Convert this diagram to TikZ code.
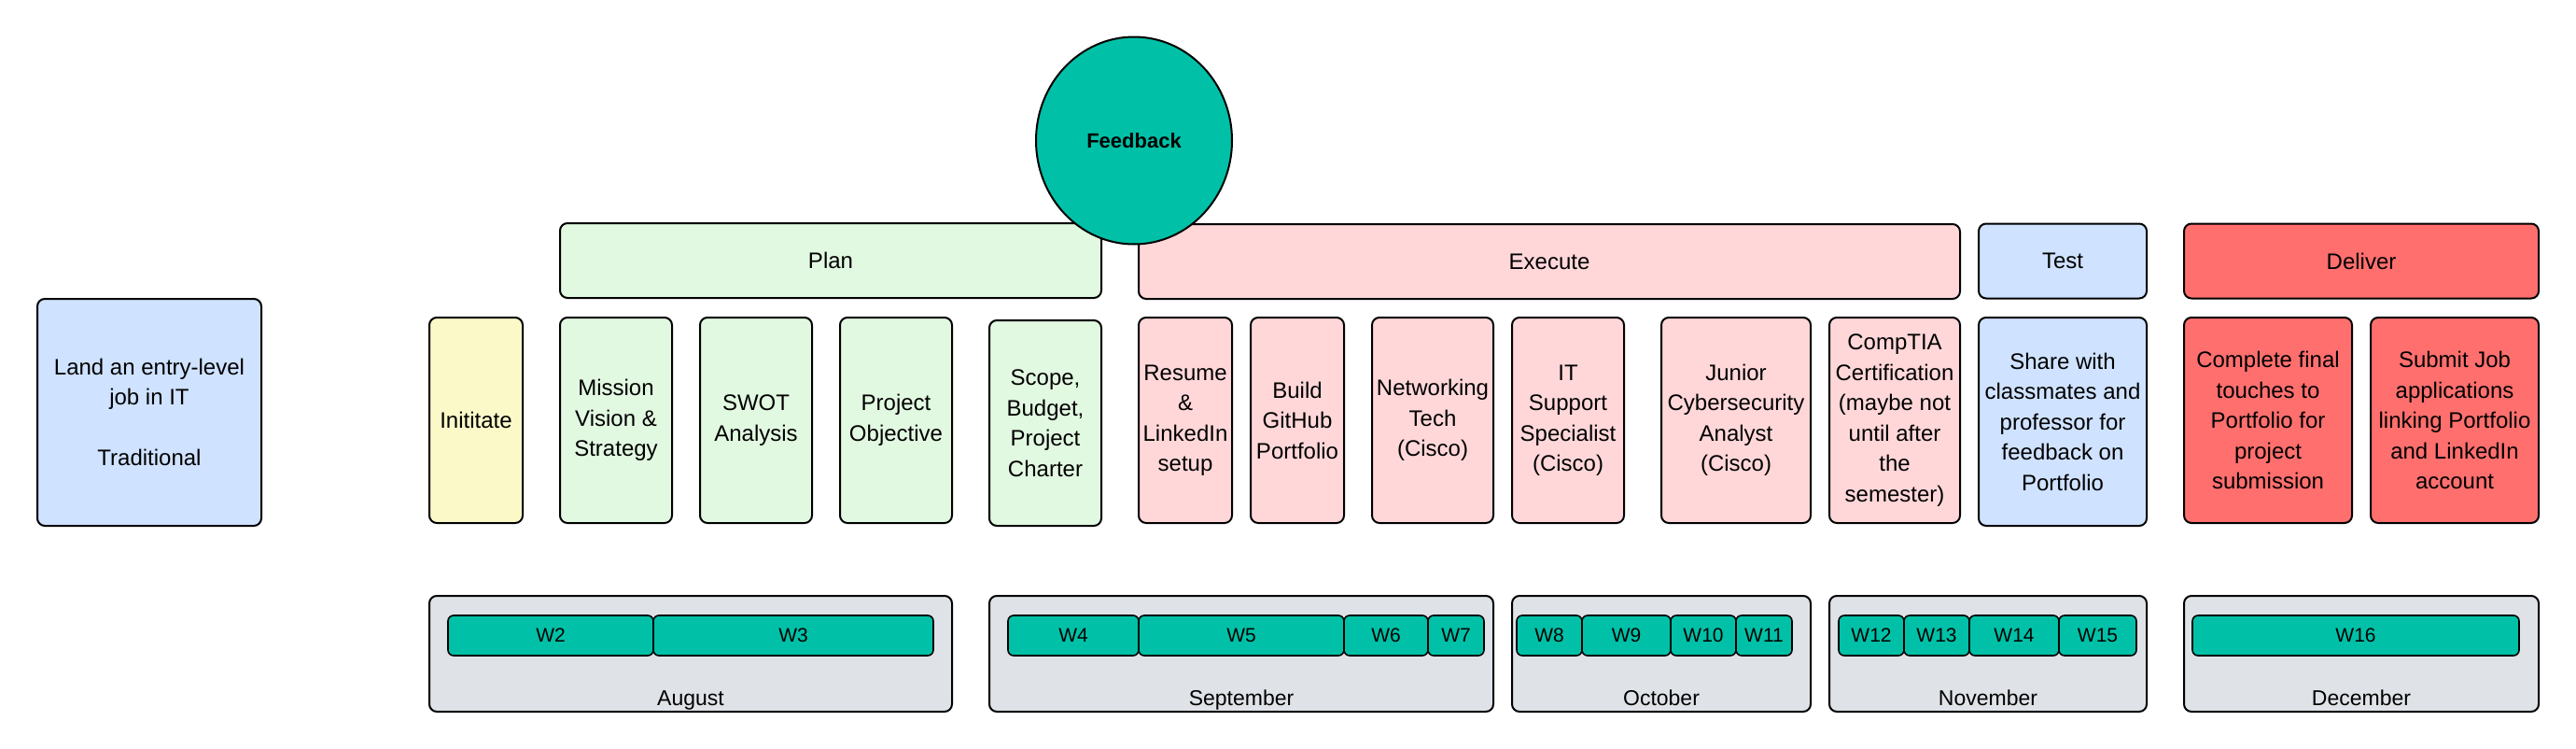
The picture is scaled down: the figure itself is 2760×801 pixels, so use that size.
\documentclass[tikz,border=0pt]{standalone}
\usepackage{fontspec}
\setmainfont{Liberation Sans}
\usepackage{tikz}
\usetikzlibrary{positioning}
\usetikzlibrary{shapes.geometric}
\definecolor{goalblue}{HTML}{CFE2FF}
\definecolor{inityellow}{HTML}{FCF9C9}
\definecolor{plangreen}{HTML}{E2F9E1}
\definecolor{execpink}{HTML}{FFD7D9}
\definecolor{delivred}{HTML}{FF6F6E}
\definecolor{feedteal}{HTML}{00C1A7}
\definecolor{monthgrey}{HTML}{DFE2E7}
\tikzstyle{box} = [draw, line width=2pt, rounded corners=8pt, align=center, inner sep=0pt, font=\fontsize{24}{32.5}\selectfont]
\tikzstyle{task} = [box, minimum height=220pt]
\tikzstyle{phase} = [box, minimum height=80pt]
\tikzstyle{month} = [box, fill=monthgrey, minimum height=124pt]
\tikzstyle{week} = [box, fill=feedteal, line width=1.6pt, rounded corners=6pt, minimum height=43pt, outer sep=0pt, font=\fontsize{21}{25}\selectfont]
\tikzstyle{lbl} = [inner sep=0pt, anchor=base, font=\fontsize{23}{27}\selectfont]

\begin{document}
\begin{tikzpicture}[x=1pt, y=-1pt]
	\useasboundingbox (0, 0) rectangle (2760, 801) ;
	
	\node[box, fill=goalblue, minimum width=240pt, minimum height=243pt] (goal) at (160, 441.5) {Land an entry-level\\job in IT\\[32.5pt]Traditional} ;
	
	\node[phase, fill=plangreen, minimum width=580pt] (plan) at (890, 279) {Plan} ;
	\node[phase, fill=execpink, minimum width=880pt] (exec) at (1660, 280) {Execute} ;
	\node[phase, fill=goalblue, minimum width=180pt] (test) at (2210, 279.5) {Test} ;
	\node[phase, fill=delivred, minimum width=380pt] (deliver) at (2530, 279.5) {Deliver} ;
	
	\node[task, fill=inityellow, minimum width=100pt] (init) at (510, 450) {Inititate} ;
	\node[task, fill=plangreen, minimum width=120pt] (mission) at (660, 450) {Mission\\Vision \&\\Strategy} ;
	\node[task, fill=plangreen, minimum width=120pt] (swot) at (810, 450) {SWOT\\Analysis} ;
	\node[task, fill=plangreen, minimum width=120pt] (objective) at (960, 450) {Project\\Objective} ;
	\node[task, fill=plangreen, minimum width=120pt] (scope) at (1120, 453) {Scope,\\Budget,\\Project\\Charter} ;
	\node[task, fill=execpink, minimum width=100pt] (resume) at (1270, 450) {Resume\\\&\\LinkedIn\\setup} ;
	\node[task, fill=execpink, minimum width=100pt] (github) at (1390, 450) {Build\\GitHub\\Portfolio} ;
	\node[task, fill=execpink, minimum width=130pt] (network) at (1535, 450) {Networking\\Tech\\(Cisco)} ;
	\node[task, fill=execpink, minimum width=120pt] (support) at (1680, 450) {IT\\Support\\Specialist\\(Cisco)} ;
	\node[task, fill=execpink, minimum width=160pt] (cyber) at (1860, 450) {Junior\\Cybersecurity\\Analyst\\(Cisco)} ;
	\node[task, fill=execpink, minimum width=140pt] (comptia) at (2030, 450) {CompTIA\\Certification\\(maybe not\\until after\\the\\semester)} ;
	\node[task, fill=goalblue, minimum width=180pt, minimum height=223pt] (share) at (2210, 451.5) {Share with\\classmates and\\professor for\\feedback on\\Portfolio} ;
	\node[task, fill=delivred, minimum width=180pt] (final) at (2430, 450) {Complete final\\touches to\\Portfolio for\\project\\submission} ;
	\node[task, fill=delivred, minimum width=180pt] (apply) at (2630, 450) {Submit Job\\applications\\linking Portfolio\\and LinkedIn\\account} ;
	
	\foreach \m/\x/\w/\t in {aug/740/560/August, sep/1330/540/September, oct/1780/320/October, nov/2130/340/November, dec/2530/380/December}
	{
		\node[month, minimum width=\w pt] (\m) at (\x, 700) {} ;
		\node[lbl] (\m-lbl) at (\x, 755) {\t} ;
	}
	
	\node[week, minimum width=220pt] (w2) at (590, 680.5) {W2} ;
	\node[week, minimum width=300pt, right=0pt of w2] (w3) {W3} ;
	
	\node[week, minimum width=140pt] (w4) at (1150, 680.5) {W4} ;
	\node[week, minimum width=220pt, right=0pt of w4] (w5) {W5} ;
	\node[week, minimum width=90pt, right=0pt of w5] (w6) {W6} ;
	\node[week, minimum width=60pt, right=0pt of w6] (w7) {W7} ;
	
	\node[week, minimum width=70pt] (w8) at (1660, 680.5) {W8} ;
	\node[week, minimum width=95pt, right=0pt of w8] (w9) {W9} ;
	\node[week, minimum width=70pt, right=0pt of w9] (w10) {W10} ;
	\node[week, minimum width=60pt, right=0pt of w10] (w11) {W11} ;
	
	\node[week, minimum width=70pt] (w12) at (2005, 680.5) {W12} ;
	\node[week, minimum width=70pt, right=0pt of w12] (w13) {W13} ;
	\node[week, minimum width=96pt, right=0pt of w13] (w14) {W14} ;
	\node[week, minimum width=83pt, right=0pt of w14] (w15) {W15} ;
	
	\node[week, minimum width=350pt] (w16) at (2524, 680.5) {W16} ;
	
	\node[ellipse, draw, line width=2pt, fill=feedteal, inner sep=0pt, minimum width=210pt, minimum height=222pt, font=\fontsize{22}{26}\selectfont\bfseries] (feedback) at (1215, 150.5) {Feedback} ;
	
\end{tikzpicture}
\end{document}
